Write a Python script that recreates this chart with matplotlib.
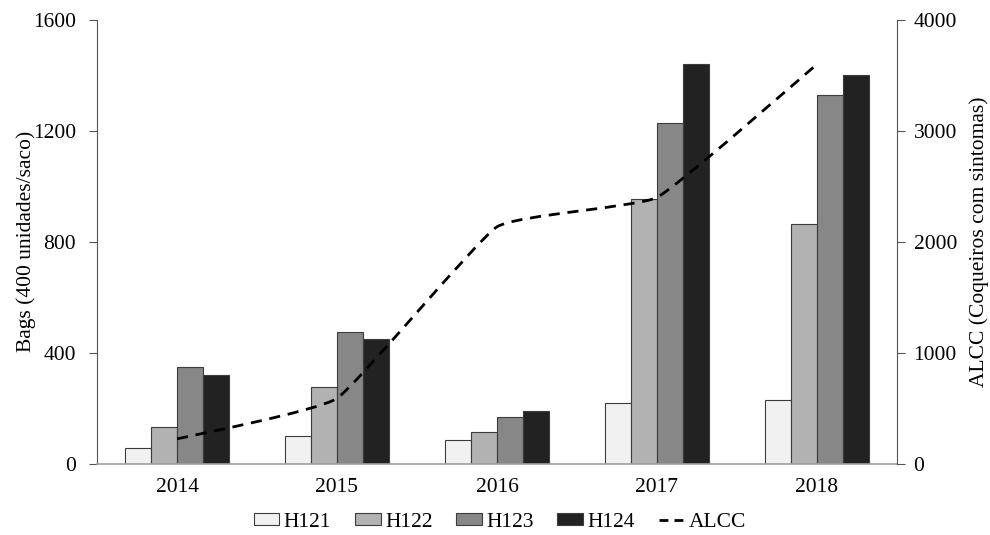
import numpy as np
import matplotlib
matplotlib.use('Agg')
import matplotlib.pyplot as plt
from matplotlib.path import Path
from matplotlib.patches import PathPatch
from matplotlib.lines import Line2D

plt.rcParams['font.family'] = ['Liberation Serif', 'DejaVu Serif']
plt.rcParams['font.size'] = 15.5

years = ['2014', '2015', '2016', '2017', '2018']
series_names = ['H121', 'H122', 'H123', 'H124']
h121 = [58, 101, 86, 220, 231]
h122 = [133, 278, 115, 955, 865]
h123 = [350, 476, 170, 1229, 1330]
h124 = [321, 451, 191, 1441, 1402]
alcc = [225, 590, 2135, 2400, 3600]

bar_colors = ['#f1f1f1', '#b2b2b2', '#878787', '#222222']


def smooth_path(xs, ys, tension=0.06):
    # Bezier path through the points with slightly rounded corners
    xs = np.asarray(xs, float)
    ys = np.asarray(ys, float)
    n = len(xs)
    verts = [(xs[0], ys[0])]
    codes = [Path.MOVETO]
    for i in range(n - 1):
        i0 = max(i - 1, 0)
        i3 = min(i + 2, n - 1)
        c1 = (xs[i] + (xs[i + 1] - xs[i0]) * tension, ys[i] + (ys[i + 1] - ys[i0]) * tension)
        c2 = (xs[i + 1] - (xs[i3] - xs[i]) * tension, ys[i + 1] - (ys[i3] - ys[i]) * tension)
        verts += [c1, c2, (xs[i + 1], ys[i + 1])]
        codes += [Path.CURVE4] * 3
    return Path(verts, codes)


fig = plt.figure(figsize=(9.9, 5.35), dpi=100)
ax = fig.add_axes([0.098, 0.133, 0.808, 0.830])

x = np.arange(len(years))
width = 0.1625
for i, (vals, name) in enumerate(zip([h121, h122, h123, h124], series_names)):
    ax.bar(x + (i - 1.5) * width, vals, width, color=bar_colors[i],
           edgecolor='#3c3c3c', linewidth=0.8, label=name, zorder=2)

ax.set_xlim(-0.5, 4.5)
ax.set_ylim(0, 1600)
ax.set_yticks([0, 400, 800, 1200, 1600])
ax.set_xticks(x)
ax.set_xticklabels(years)
ax.set_ylabel('Bags (400 unidades/saco)', labelpad=-2)
ax.tick_params(axis='x', length=0, pad=10)
ax.tick_params(axis='y', length=6, color='#555555', pad=9)
ax.spines['top'].set_visible(False)
ax.spines['right'].set_visible(False)
ax.spines['left'].set_color('#555555')
ax.spines['bottom'].set_color('#a0a0a0')
ax.spines['bottom'].set_linewidth(1.2)

ax2 = ax.twinx()
ax2.set_ylim(0, 4000)
ax2.set_yticks([0, 1000, 2000, 3000, 4000])
ax2.set_ylabel('ALCC (Coqueiros com sintomas)', labelpad=9)
ax2.tick_params(axis='y', length=6, color='#555555', pad=6)
ax2.spines['top'].set_visible(False)
ax2.spines['left'].set_visible(False)
ax2.spines['bottom'].set_visible(False)
ax2.spines['right'].set_color('#555555')

alcc_patch = PathPatch(smooth_path(x, alcc), fill=False, edgecolor='black',
                       linewidth=2, linestyle=(0, (4, 2.8)), zorder=3)
ax2.add_patch(alcc_patch)

handles, labels = ax.get_legend_handles_labels()
handles.append(Line2D([], [], color='black', linewidth=2, linestyle=(0, (3.2, 2.2))))
labels.append('ALCC')
fig.legend(handles, labels, loc='center', bbox_to_anchor=(0.505, 0.024), ncol=5,
           frameon=False, handlelength=1.2, handleheight=0.47, handletextpad=0.2,
           columnspacing=1.1, fontsize=15.5, borderpad=0)

fig.savefig('out.png', dpi=100)
